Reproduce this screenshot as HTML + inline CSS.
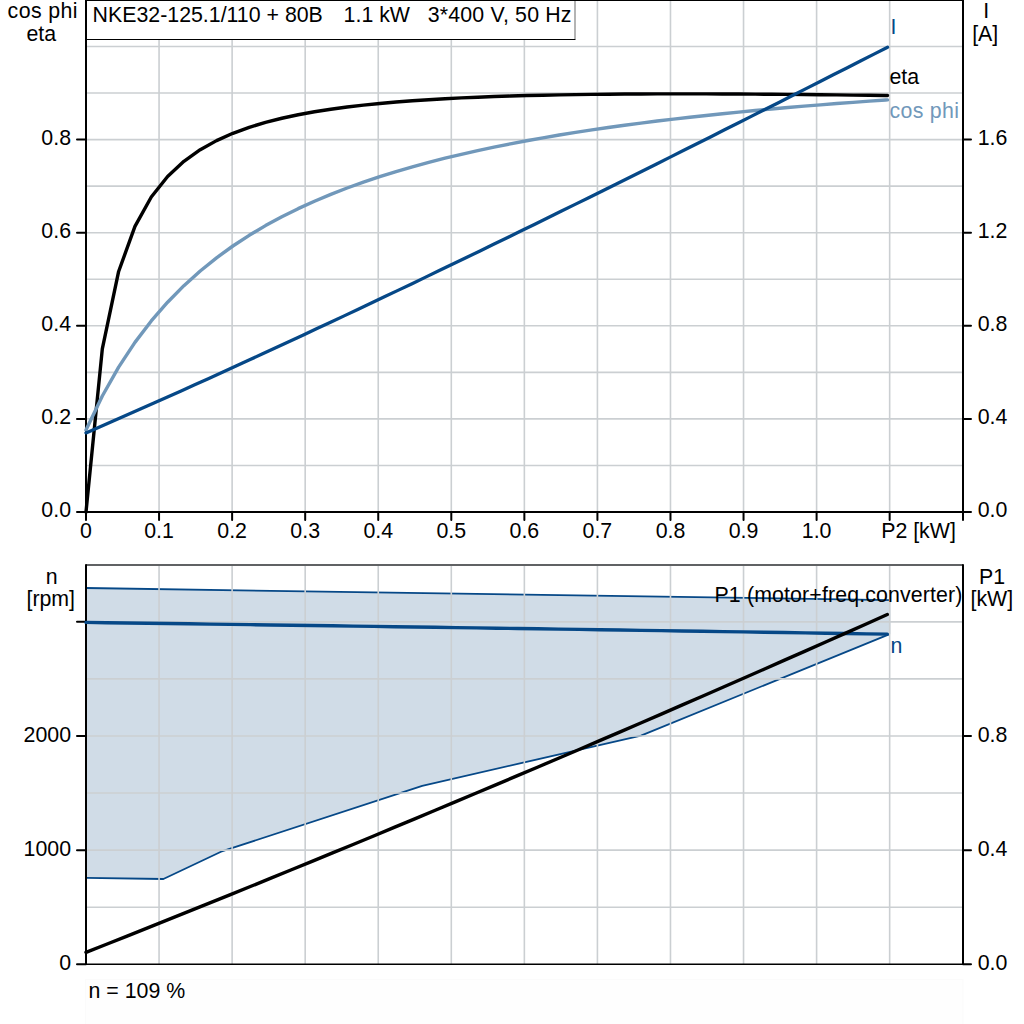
<!DOCTYPE html>
<html><head><meta charset="utf-8"><style>
html,body{margin:0;padding:0;background:#fff;overflow:hidden}
svg{display:block}
text{white-space:pre}
</style></head><body>
<svg width="1024" height="1024" viewBox="0 0 1024 1024">
<rect width="1024" height="1024" fill="#fff"/>
<rect x="85.5" y="979.5" width="877.5" height="50" fill="#fefefe" stroke="#fbfbfb" stroke-width="1"/>
<path d="M86,465.45 H963 M86,418.90 H963 M86,372.35 H963 M86,325.80 H963 M86,279.25 H963 M86,232.70 H963 M86,186.15 H963 M86,139.60 H963 M86,93.05 H963 M86,46.50 H963 M159.06,0 V512 M232.12,0 V512 M305.18,0 V512 M378.24,0 V512 M451.30,0 V512 M524.36,0 V512 M597.42,0 V512 M670.48,0 V512 M743.54,0 V512 M816.60,0 V512 M889.66,0 V512" stroke="#cbcfd2" stroke-width="1.6" fill="none"/>
<polygon points="86,588 890.5,600.1 890.5,634.3 889,634.3 641,735.6 422.2,785.8 221,851.7 163.4,879 86,877.8" fill="#d0dce7" stroke="none"/>
<polyline points="86,588 890.5,600.1" fill="none" stroke="#064887" stroke-width="1.8"/>
<polyline points="889,634.3 641,735.6 422.2,785.8 221,851.7 163.4,879 86,877.8" fill="none" stroke="#064887" stroke-width="1.8" stroke-linejoin="round"/>
<path d="M86,907.22 H963 M86,850.15 H963 M86,793.07 H963 M86,736.00 H963 M86,678.92 H963 M86,621.85 H963 M159.06,565 V964 M232.12,565 V964 M305.18,565 V964 M378.24,565 V964 M451.30,565 V964 M524.36,565 V964 M597.42,565 V964 M670.48,565 V964 M743.54,565 V964 M816.60,565 V964 M889.66,565 V964" stroke="#cbcfd2" stroke-width="1.6" fill="none"/>
<rect x="85.5" y="-0.5" width="489.5" height="39.5" fill="#fff" stroke="none"/>
<path d="M575,0 V39" stroke="#8c8c8c" stroke-width="1.3" fill="none"/>
<path d="M85,39.5 H575.5" stroke="#000" stroke-width="1.2" fill="none"/>
<path d="M86,0 H963 M86,0 V512 M963,0 V520 M77,512 H971 M86.00,512 V520 M159.06,512 V520 M232.12,512 V520 M305.18,512 V520 M378.24,512 V520 M451.30,512 V520 M524.36,512 V520 M597.42,512 V520 M670.48,512 V520 M743.54,512 V520 M816.60,512 V520 M889.66,512 V520 M77,418.90 H86 M963,418.90 H971 M77,325.80 H86 M963,325.80 H971 M77,232.70 H86 M963,232.70 H971 M77,139.60 H86 M963,139.60 H971" stroke="#000" stroke-width="2" stroke-linecap="round" fill="none"/>
<path d="M86.00,512.00 L102.32,348.91 L118.64,271.47 L134.96,226.41 L151.28,197.03 L167.60,176.45 L183.92,161.29 L200.24,149.71 L216.56,140.61 L232.88,133.31 L249.20,127.34 L265.52,122.40 L281.84,118.26 L298.16,114.76 L314.48,111.78 L330.80,109.23 L347.12,107.03 L363.44,105.12 L379.76,103.47 L396.08,102.03 L412.40,100.78 L428.72,99.69 L445.04,98.74 L461.36,97.91 L477.68,97.19 L494.00,96.57 L510.32,96.03 L526.64,95.57 L542.96,95.18 L559.28,94.85 L575.60,94.58 L591.92,94.36 L608.24,94.18 L624.56,94.05 L640.88,93.95 L657.20,93.89 L673.52,93.86 L689.84,93.87 L706.16,93.89 L722.48,93.95 L738.80,94.03 L755.12,94.13 L771.44,94.24 L787.76,94.38 L804.08,94.54 L820.40,94.71 L836.72,94.89 L853.04,95.09 L869.36,95.31 L885.68,95.53 L887.50,95.56" stroke="#000" stroke-width="3.4" fill="none" stroke-linejoin="round" stroke-linecap="round"/>
<path d="M86.00,430.08 L102.32,395.99 L118.64,367.14 L134.96,342.40 L151.28,320.96 L167.60,302.20 L183.92,285.66 L200.24,270.96 L216.56,257.82 L232.88,246.00 L249.20,235.31 L265.52,225.61 L281.84,216.76 L298.16,208.66 L314.48,201.22 L330.80,194.36 L347.12,188.01 L363.44,182.13 L379.76,176.67 L396.08,171.58 L412.40,166.82 L428.72,162.37 L445.04,158.20 L461.36,154.29 L477.68,150.60 L494.00,147.13 L510.32,143.85 L526.64,140.76 L542.96,137.83 L559.28,135.05 L575.60,132.42 L591.92,129.91 L608.24,127.54 L624.56,125.27 L640.88,123.12 L657.20,121.06 L673.52,119.10 L689.84,117.23 L706.16,115.44 L722.48,113.72 L738.80,112.08 L755.12,110.51 L771.44,109.00 L787.76,107.56 L804.08,106.17 L820.40,104.84 L836.72,103.56 L853.04,102.33 L869.36,101.15 L885.68,100.01 L887.50,99.88" stroke="#7198ba" stroke-width="3.4" fill="none" stroke-linejoin="round" stroke-linecap="round"/>
<path d="M86.00,432.90 L99.59,426.99 L113.17,421.04 L126.76,415.07 L140.35,409.07 L153.93,403.03 L167.52,396.98 L181.11,390.89 L194.69,384.78 L208.28,378.64 L221.86,372.47 L235.45,366.28 L249.04,360.06 L262.62,353.82 L276.21,347.55 L289.80,341.26 L303.38,334.95 L316.97,328.61 L330.56,322.25 L344.14,315.87 L357.73,309.47 L371.32,303.04 L384.90,296.59 L398.49,290.13 L412.07,283.64 L425.66,277.13 L439.25,270.61 L452.83,264.06 L466.42,257.50 L480.01,250.92 L493.59,244.32 L507.18,237.70 L520.77,231.07 L534.35,224.42 L547.94,217.75 L561.53,211.07 L575.11,204.37 L588.70,197.66 L602.28,190.94 L615.87,184.20 L629.46,177.45 L643.04,170.68 L656.63,163.90 L670.22,157.11 L683.80,150.31 L697.39,143.50 L710.98,136.68 L724.56,129.84 L738.15,123.00 L751.74,116.14 L765.32,109.28 L778.91,102.41 L792.49,95.53 L806.08,88.64 L819.67,81.75 L833.25,74.84 L846.84,67.94 L860.43,61.02 L874.01,54.10 L887.60,47.17" stroke="#064887" stroke-width="3.3" fill="none" stroke-linejoin="round" stroke-linecap="round"/>
<path d="M86,565 H963" stroke="#606264" stroke-width="2" fill="none"/>
<path d="M86,565 V964.25 M963,565 V964.25 M77,964.30 H86 M77,850.15 H86 M77,736.00 H86 M77,621.85 H86 M963,964.30 H971 M963,850.15 H971 M963,736.00 H971" stroke="#000" stroke-width="2" stroke-linecap="round" fill="none"/>
<path d="M86,964.25 H963" stroke="#000" stroke-width="1.5" fill="none"/>
<path d="M86.00,622.40 L106.55,622.68 L127.09,622.95 L147.64,623.23 L168.18,623.51 L188.73,623.79 L209.28,624.08 L229.82,624.36 L250.37,624.65 L270.92,624.93 L291.46,625.22 L312.01,625.51 L332.55,625.80 L353.10,626.10 L373.65,626.39 L394.19,626.69 L414.74,626.98 L435.28,627.28 L455.83,627.58 L476.38,627.88 L496.92,628.18 L517.47,628.48 L538.02,628.79 L558.56,629.09 L579.11,629.40 L599.65,629.71 L620.20,630.02 L640.75,630.33 L661.29,630.64 L681.84,630.96 L702.38,631.27 L722.93,631.59 L743.48,631.91 L764.02,632.23 L784.57,632.55 L805.12,632.87 L825.66,633.19 L846.21,633.52 L866.75,633.85 L887.30,634.17" stroke="#064887" stroke-width="3.4" fill="none" stroke-linecap="round"/>
<path d="M86.00,952.40 L106.55,944.26 L127.09,936.10 L147.64,927.90 L168.18,919.68 L188.73,911.43 L209.28,903.16 L229.82,894.85 L250.37,886.52 L270.92,878.16 L291.46,869.77 L312.01,861.36 L332.55,852.92 L353.10,844.45 L373.65,835.95 L394.19,827.42 L414.74,818.87 L435.28,810.29 L455.83,801.68 L476.38,793.04 L496.92,784.38 L517.47,775.69 L538.02,766.97 L558.56,758.22 L579.11,749.45 L599.65,740.64 L620.20,731.82 L640.75,722.96 L661.29,714.07 L681.84,705.16 L702.38,696.22 L722.93,687.25 L743.48,678.25 L764.02,669.23 L784.57,660.18 L805.12,651.10 L825.66,641.99 L846.21,632.86 L866.75,623.70 L887.30,614.51" stroke="#000" stroke-width="3.4" fill="none" stroke-linecap="round"/>
<g font-family="Liberation Sans, sans-serif"><text x="42.8" y="18" text-anchor="middle" fill="#000" font-size="21.33" letter-spacing="0.4">cos phi</text><text x="41.3" y="41.0" text-anchor="middle" fill="#000" font-size="21.33">eta</text><text x="92.6" y="22" text-anchor="start" fill="#000" font-size="21.33">NKE32-125.1/110 + 80B</text><text x="343.6" y="22" text-anchor="start" fill="#000" font-size="21.33">1.1 kW</text><text x="427.8" y="22" text-anchor="start" fill="#000" font-size="21.33" letter-spacing="0.17">3*400 V, 50 Hz</text><text x="71" y="517.15" text-anchor="end" fill="#000" font-size="21.33">0.0</text><text x="71" y="424.05" text-anchor="end" fill="#000" font-size="21.33">0.2</text><text x="71" y="330.95" text-anchor="end" fill="#000" font-size="21.33">0.4</text><text x="71" y="237.85" text-anchor="end" fill="#000" font-size="21.33">0.6</text><text x="71" y="144.75" text-anchor="end" fill="#000" font-size="21.33">0.8</text><text x="977.7" y="517.15" text-anchor="start" fill="#000" font-size="21.33">0.0</text><text x="977.7" y="424.05" text-anchor="start" fill="#000" font-size="21.33">0.4</text><text x="977.7" y="330.95" text-anchor="start" fill="#000" font-size="21.33">0.8</text><text x="977.7" y="237.85" text-anchor="start" fill="#000" font-size="21.33">1.2</text><text x="977.7" y="144.75" text-anchor="start" fill="#000" font-size="21.33">1.6</text><text x="986.3" y="18.2" text-anchor="middle" fill="#000" font-size="21.33">I</text><text x="985.2" y="40.8" text-anchor="middle" fill="#000" font-size="21.33">[A]</text><text x="86.0" y="537.8" text-anchor="middle" fill="#000" font-size="21.33">0</text><text x="159.06" y="537.8" text-anchor="middle" fill="#000" font-size="21.33">0.1</text><text x="232.12" y="537.8" text-anchor="middle" fill="#000" font-size="21.33">0.2</text><text x="305.18" y="537.8" text-anchor="middle" fill="#000" font-size="21.33">0.3</text><text x="378.24" y="537.8" text-anchor="middle" fill="#000" font-size="21.33">0.4</text><text x="451.3" y="537.8" text-anchor="middle" fill="#000" font-size="21.33">0.5</text><text x="524.36" y="537.8" text-anchor="middle" fill="#000" font-size="21.33">0.6</text><text x="597.42" y="537.8" text-anchor="middle" fill="#000" font-size="21.33">0.7</text><text x="670.48" y="537.8" text-anchor="middle" fill="#000" font-size="21.33">0.8</text><text x="743.54" y="537.8" text-anchor="middle" fill="#000" font-size="21.33">0.9</text><text x="816.6" y="537.8" text-anchor="middle" fill="#000" font-size="21.33">1.0</text><text x="918.5" y="537.8" text-anchor="middle" fill="#000" font-size="21.33">P2 [kW]</text><text x="890.5" y="34.4" text-anchor="start" fill="#064887" font-size="21.33">I</text><text x="889.5" y="83.6" text-anchor="start" fill="#000" font-size="21.33">eta</text><text x="889.5" y="117.7" text-anchor="start" fill="#7198ba" font-size="21.33" letter-spacing="0.3">cos phi</text><text x="51.8" y="583.7" text-anchor="middle" fill="#000" font-size="21.33">n</text><text x="50.75" y="605.5" text-anchor="middle" fill="#000" font-size="21.33">[rpm]</text><text x="71" y="970.2" text-anchor="end" fill="#000" font-size="21.33">0</text><text x="71" y="856.05" text-anchor="end" fill="#000" font-size="21.33">1000</text><text x="71" y="741.9" text-anchor="end" fill="#000" font-size="21.33">2000</text><text x="977.7" y="970.2" text-anchor="start" fill="#000" font-size="21.33">0.0</text><text x="977.7" y="856.05" text-anchor="start" fill="#000" font-size="21.33">0.4</text><text x="977.7" y="741.9" text-anchor="start" fill="#000" font-size="21.33">0.8</text><text x="992" y="583.7" text-anchor="middle" fill="#000" font-size="21.33">P1</text><text x="991.8" y="605.5" text-anchor="middle" fill="#000" font-size="21.33">[kW]</text><text x="714.5" y="601.6" text-anchor="start" fill="#000" font-size="21.33" letter-spacing="0.13">P1 (motor+freq.converter)</text><text x="890.5" y="652.8" text-anchor="start" fill="#064887" font-size="21.33">n</text><text x="88.5" y="998" text-anchor="start" fill="#000" font-size="21.33">n = 109 %</text></g>
</svg>
</body></html>
